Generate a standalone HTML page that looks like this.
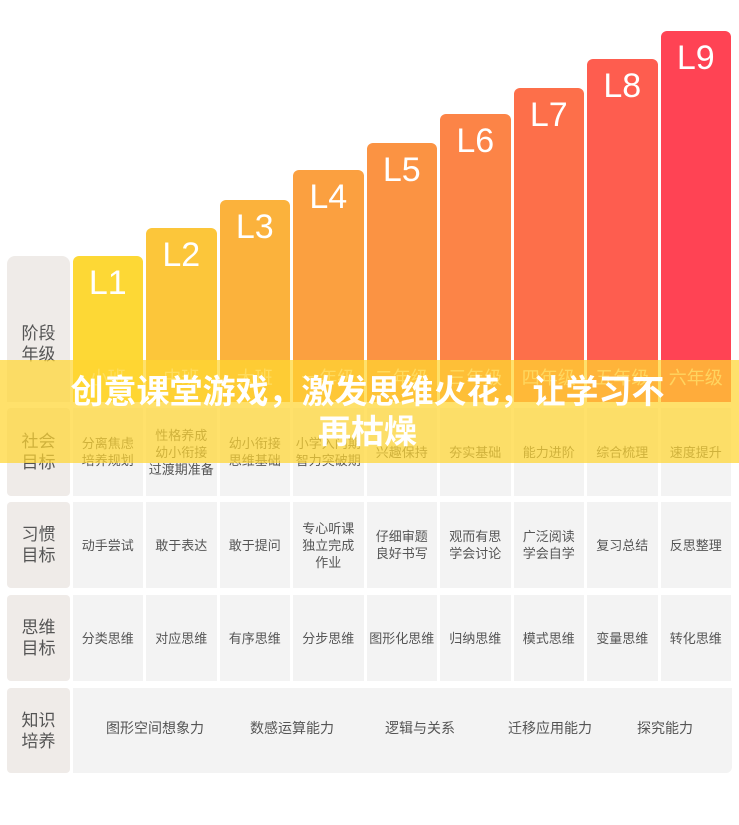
<!DOCTYPE html>
<html><head><meta charset="utf-8">
<style>
body{margin:0;width:739px;height:825px;background:#fff;position:relative;overflow:hidden;font-family:"Liberation Sans","Noto Sans CJK SC",sans-serif;}
.abs{position:absolute;box-sizing:border-box;}
.bar{border-radius:6px 6px 0 0;}
.lv{position:absolute;left:0;right:0;text-align:center;color:#fff;font-size:34px;top:8px;}
.grade{position:absolute;left:0;right:0;bottom:12px;text-align:center;color:rgba(255,255,255,0.75);font-size:18px;}
.lab{background:#efebe8;color:#555;font-size:17px;line-height:21px;display:flex;align-items:center;justify-content:center;text-align:center;border-radius:4px;}
.cell{background:#f3f3f3;color:#555;font-size:13px;line-height:17px;display:flex;align-items:center;justify-content:center;text-align:center;}
</style></head><body>
<div id="root"></div>
<div class="abs" style="left:0;top:360px;width:739px;height:103px;background:rgba(255,214,50,0.72);z-index:5;"></div>
<div class="abs" style="left:55px;top:372px;width:625px;text-align:center;color:#fff;font-weight:bold;font-size:33px;line-height:40px;z-index:6;">创意课堂游戏，激发思维火花，让学习不再枯燥</div>
<script>
const levels=["L1","L2","L3","L4","L5","L6","L7","L8","L9"];
const barTops=[256,228,200,170,143,114,88,59,31];
const grades=["小班","中班","大班","一年级","二年级","三年级","四年级","五年级","六年级"];
const colors=["#fdd835","#fcc63a","#fbb23c","#fba040","#fb9343","#fc8447","#fd6f4a","#fe5d4f","#ff4354"];
const rowLabels=["社会<br>目标","习惯<br>目标","思维<br>目标","知识<br>培养"];
const social=["分离焦虑<br>培养规划","性格养成<br>幼小衔接<br>过渡期准备","幼小衔接<br>思维基础","小学入门期<br>智力突破期","兴趣保持","夯实基础","能力进阶","综合梳理","速度提升"];
const habit=["动手尝试","敢于表达","敢于提问","专心听课<br>独立完成<br>作业","仔细审题<br>良好书写","观而有思<br>学会讨论","广泛阅读<br>学会自学","复习总结","反思整理"];
const thinking=["分类思维","对应思维","有序思维","分步思维","图形化思维","归纳思维","模式思维","变量思维","转化思维"];
const knowledge=["图形空间想象力","数感运算能力","逻辑与关系","迁移应用能力","探究能力"];
const knowX=[155,292,420,550,665];
const root=document.body;
const colX=i=>72.5+i*73.5;
const colW=70.5;
const baseY=402;
function mk(cls,style,html){const d=document.createElement('div');d.className='abs '+cls;d.setAttribute('style',style);if(html)d.innerHTML=html;root.appendChild(d);return d;}
const hl=mk('lab','left:7px;top:256px;width:63px;height:146px;border-radius:8px 8px 0 0;padding-top:30px;','阶段<br>年级');


levels.forEach((l,i)=>{
 const b=mk('bar',`left:${colX(i)}px;top:${barTops[i]}px;width:${colW}px;height:${baseY-barTops[i]}px;background:${colors[i]};`,`<div class="lv">${l}</div><div class="grade">${grades[i]}</div>`);
 
 
});
const rows=[[408,88,social],[502,86,habit],[595,86,thinking]];
rows.forEach((r,ri)=>{
 const lb=mk('lab',`left:7px;top:${r[0]}px;width:63px;height:${r[1]}px;`,rowLabels[ri]);
 
 
 r[2].forEach((t,i)=>{
  const c=mk('cell',`left:${colX(i)}px;top:${r[0]}px;width:${colW}px;height:${r[1]}px;`,t);
  
  
 });
});
const kl=mk('lab','left:7px;top:688px;width:63px;height:85px;',rowLabels[3]);


const kc=mk('cell','left:72.5px;top:688px;width:659px;height:85px;border-radius:0 0 6px 0;','');


knowledge.forEach((t,i)=>{
 const k=mk('','left:'+(knowX[i]-60)+'px;top:719px;width:120px;text-align:center;color:#555;font-size:14px;line-height:18px;',t);
 
 
});
</script>
</body></html>
